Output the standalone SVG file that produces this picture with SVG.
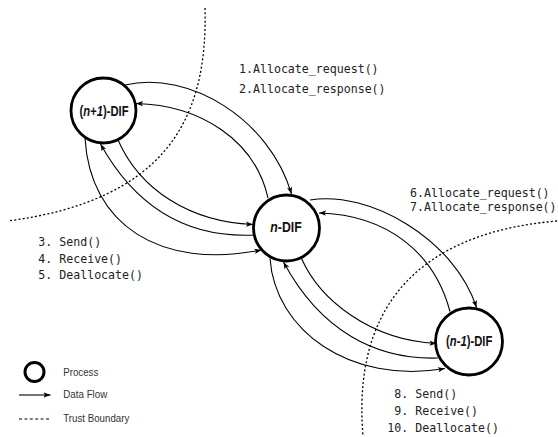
<svg xmlns="http://www.w3.org/2000/svg" width="558" height="437" viewBox="0 0 558 437">
  <style>
    .proc { fill: #ffffff; stroke: #000000; stroke-width: 2.8; }
    .flow { fill: none; stroke: #000000; stroke-width: 1.1; marker-end: url(#arrow); }
    .trust { fill: none; stroke: #000000; stroke-width: 1.3; stroke-dasharray: 2 2.2; }
    .node-label { font-family: "Liberation Sans", Arial, sans-serif; font-weight: bold; font-size: 15px; fill: #111111; text-anchor: middle; }
    .call { font-family: "DejaVu Sans Mono", "Liberation Mono", monospace; font-size: 11.6px; fill: #222222; }
    .legend { font-family: "Liberation Sans", Arial, sans-serif; font-size: 11.5px; fill: #333333; }
  </style>
  <defs>
    <marker id="arrow" markerUnits="userSpaceOnUse" markerWidth="8" markerHeight="6" refX="7" refY="3" orient="auto">
      <path d="M0,0.4 L7,3 L0,5.6 L1.6,3 z" fill="#000000"/>
    </marker>
  </defs>

  <!-- trust boundaries -->
  <g id="trust-boundaries">
    <path class="trust" d="M205,8 C208,120 165,200 8,221"/>
    <path class="trust" d="M557,221 C450,230 350,280 363,436"/>
  </g>

  <!-- data flows -->
  <g id="connectors">
    <!-- (n+1)-DIF <-> n-DIF -->
    <path class="flow" d="M125,85 C190,70 270,120 291.5,194"/>
    <path class="flow" d="M268,198 C255,140 200,105 136,103.5"/>
    <path class="flow" d="M118,140 C140,190 190,222 253,224.5"/>
    <path class="flow" d="M255,235 C195,238 140,215 100.5,144"/>
    <path class="flow" d="M85,138 C90,225 160,270 261.5,250"/>
    <!-- n-DIF <-> (n-1)-DIF -->
    <path class="flow" d="M310,200 C370,190 455,240 476.5,307.5"/>
    <path class="flow" d="M450,311.5 C435,255 390,215 319,213"/>
    <path class="flow" d="M301.5,258.5 C320,300 370,340 436.5,343.5"/>
    <path class="flow" d="M438,358 C375,360 320,330 283.5,262"/>
    <path class="flow" d="M270,258.5 C275,330 350,385 445,368.5"/>
  </g>

  <!-- processes -->
  <g id="node-n-plus-1">
    <circle class="proc" cx="103.5" cy="110.5" r="32.5"/>
    <text class="node-label" transform="translate(104,115.5) scale(0.75,1)">(<tspan font-style="italic">n+1</tspan>)-DIF</text>
  </g>
  <g id="node-n">
    <circle class="proc" cx="286.5" cy="228" r="33"/>
    <text class="node-label" transform="translate(286,231.5) scale(0.82,1)"><tspan font-style="italic">n</tspan>-DIF</text>
  </g>
  <g id="node-n-minus-1">
    <circle class="proc" cx="469" cy="341.5" r="33.5"/>
    <text class="node-label" transform="translate(469.2,345.7) scale(0.75,1)">(<tspan font-style="italic">n-1</tspan>)-DIF</text>
  </g>

  <!-- call labels -->
  <g id="calls">
    <text class="call" x="239" y="73">1.Allocate_request()</text>
    <text class="call" x="239" y="93">2.Allocate_response()</text>
    <text class="call" x="410" y="196.5">6.Allocate_request()</text>
    <text class="call" x="410" y="210.5">7.Allocate_response()</text>
    <text class="call" x="38.3" y="246">3. Send()</text>
    <text class="call" x="38.3" y="262.5">4. Receive()</text>
    <text class="call" x="38.3" y="279">5. Deallocate()</text>
    <text class="call" x="394.3" y="398.3">8. Send()</text>
    <text class="call" x="394.3" y="415">9. Receive()</text>
    <text class="call" x="387.3" y="431.7">10. Deallocate()</text>
  </g>

  <!-- legend -->
  <g id="legend">
    <circle cx="34.5" cy="372" r="9.5" fill="none" stroke="#000000" stroke-width="3"/>
    <text class="legend" x="63.3" y="375.5" textLength="35" lengthAdjust="spacingAndGlyphs">Process</text>
    <line x1="19" y1="395" x2="50.5" y2="395" stroke="#000000" stroke-width="1.1" marker-end="url(#arrow)"/>
    <text class="legend" x="63.3" y="398" textLength="44" lengthAdjust="spacingAndGlyphs">Data Flow</text>
    <line x1="19" y1="419" x2="51" y2="419" stroke="#000000" stroke-width="1.2" stroke-dasharray="3 2.4"/>
    <text class="legend" x="63.3" y="421.5" textLength="66" lengthAdjust="spacingAndGlyphs">Trust Boundary</text>
  </g>
</svg>
